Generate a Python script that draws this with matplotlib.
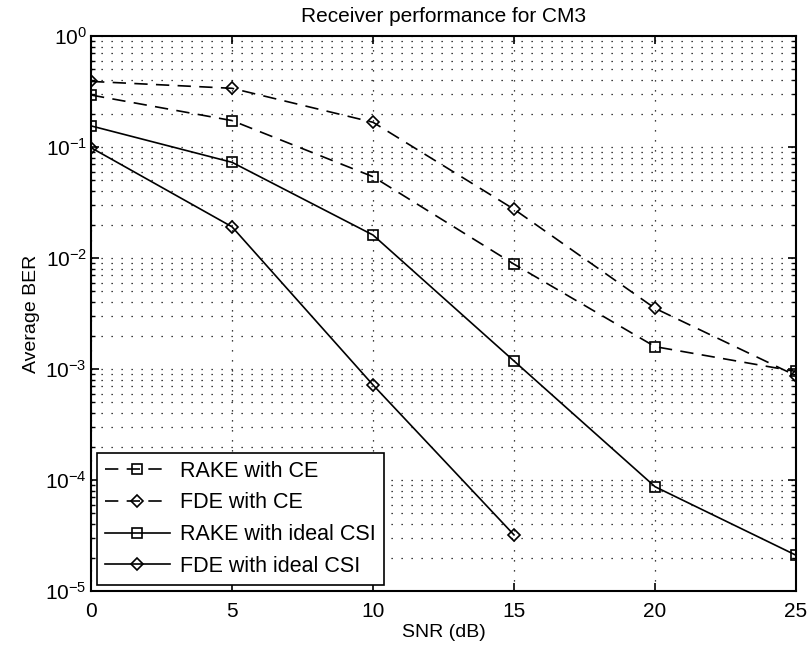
import numpy as np
import matplotlib as mpl
mpl.use('Agg')
import matplotlib.pyplot as plt
from matplotlib.ticker import LogLocator, NullFormatter

plt.rcParams['font.family'] = ['Liberation Sans', 'DejaVu Sans']

snr = [0, 5, 10, 15, 20, 25]
snr_fde_ideal = [0, 5, 10, 15]
rake_ce = [0.294, 0.173, 0.054, 0.0088, 0.00159, 0.00095]
fde_ce = [0.39, 0.338, 0.167, 0.0275, 0.00352, 0.00087]
rake_ideal = [0.155, 0.0728, 0.0161, 0.00118, 8.7e-5, 2.1e-5]
fde_ideal = [0.0986, 0.0191, 0.000718, 3.2e-5]

fig = plt.figure(figsize=(8.07, 6.56), dpi=100)
ax = fig.add_axes([0.1128, 0.0991, 0.8736, 0.846])

mk = dict(color='k', lw=1.2, mfc='none', mec='k', mew=1.2)
ax.semilogy(snr, rake_ce, '--s', ms=7, dashes=(8, 5), label='RAKE with CE', **mk)
ax.semilogy(snr, fde_ce, '--D', ms=6.5, dashes=(8, 5), label='FDE with CE', **mk)
ax.semilogy(snr, rake_ideal, '-s', ms=7, label='RAKE with ideal CSI', **mk)
ax.semilogy(snr_fde_ideal, fde_ideal, '-D', ms=6.5, label='FDE with ideal CSI', **mk)

ax.set_xlim(0, 25)
ax.set_ylim(1e-5, 1)
ax.set_xticks([0, 5, 10, 15, 20, 25])
ax.yaxis.set_minor_locator(LogLocator(base=10, subs=np.arange(2, 10)))
ax.yaxis.set_minor_formatter(NullFormatter())
ax.tick_params(which='both', direction='in', top=True, right=True, labelsize=15)
ax.tick_params(which='major', length=6, width=1.2)
ax.tick_params(which='minor', length=3, width=1.0)
ax.tick_params(axis='x', pad=8)
ax.tick_params(axis='y', pad=3)
ax.grid(True, which='major', ls=(0, (1, 7)), color='k', lw=0.9)
ax.grid(True, which='minor', axis='y', ls=(0, (1, 7)), color='k', lw=0.9)
for s in ax.spines.values():
    s.set_linewidth(1.5)

ax.set_title('Receiver performance for CM3', fontsize=15, pad=10)
ax.set_xlabel('SNR (dB)', fontsize=14, labelpad=2)
ax.set_ylabel('Average BER', fontsize=14, labelpad=4)

leg = ax.legend(loc='lower left', fontsize=15.5, fancybox=False, edgecolor='k',
                framealpha=1, handlelength=3, borderaxespad=0.3, labelspacing=0.5,
                borderpad=0.35, handletextpad=0.5)
leg.get_frame().set_linewidth(1.2)

fig.savefig('out.png')
